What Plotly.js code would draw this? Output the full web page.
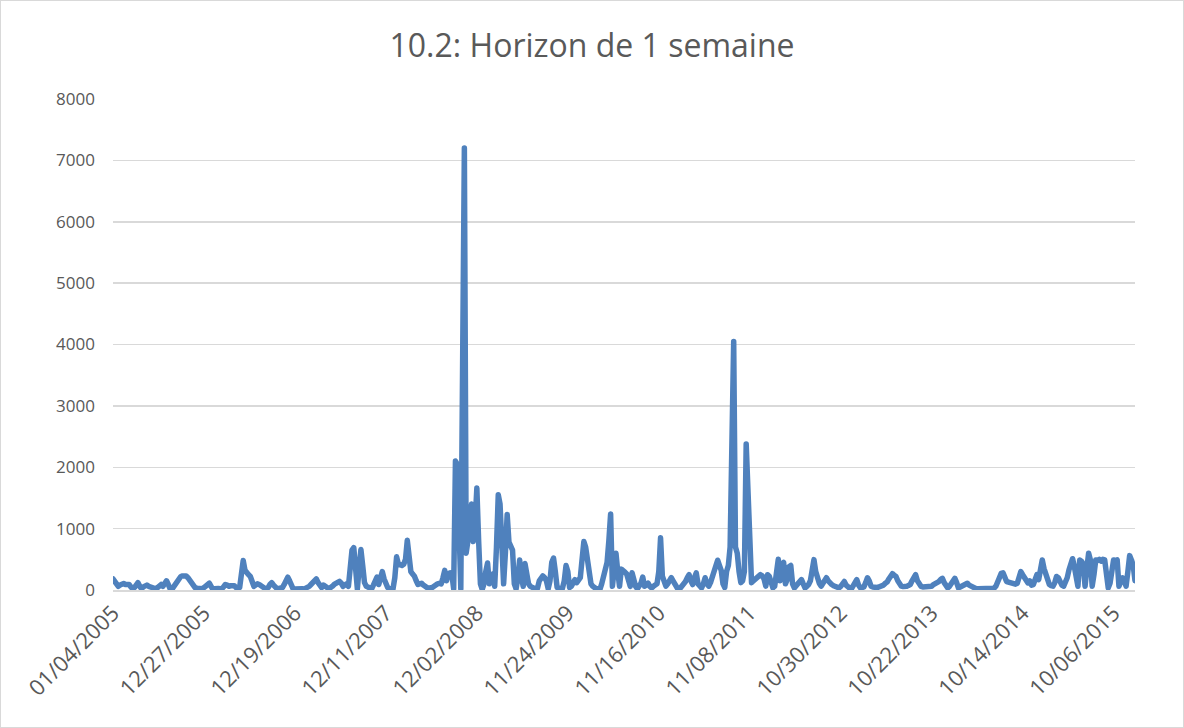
<!DOCTYPE html>
<html>
<head>
<meta charset="utf-8">
<script src="https://cdn.plot.ly/plotly-3.0.1.min.js"></script>
<style>
html, body { margin: 0; padding: 0; background: #ffffff; }
#frame { width: 1184px; height: 728px; box-sizing: border-box; border: 1px solid #d9d9d9; }
#chart { width: 1182px; height: 726px; }
#chart path.js-line { stroke-linejoin: round !important; stroke-linecap: round !important; }
</style>
</head>
<body>
<div id="frame"><div id="chart"></div></div>
<script>
// Weekly series starting 01/04/2005 (one value per week)
const startDate = "2005-01-04";
const chartTitle = "10.2: Horizon de 1 semaine";

const values = [
  180, 140, 90, 60, 80, 100, 105, 90, 95, 90,
  50, 20, 40, 90, 120, 60, 20, 50, 80, 80,
  60, 50, 40, 20, 20, 40, 70, 90, 60, 100,
  150, 90, 20, 10, 60, 110, 140, 190, 220, 230,
  225, 230, 200, 150, 110, 70, 40, 30, 25, 20,
  20, 40, 60, 90, 110, 60, 10, 20, 30, 25,
  20, 20, 50, 90, 80, 60, 70, 80, 70, 40,
  20, 40, 200, 480, 320, 270, 250, 220, 100, 60,
  80, 100, 90, 60, 40, 30, 25, 40, 90, 120,
  80, 30, 20, 25, 30, 40, 90, 180, 210, 150,
  50, 20, 15, 20, 20, 15, 20, 15, 25, 40,
  60, 90, 120, 160, 180, 120, 60, 40, 80, 70,
  40, 20, 30, 60, 90, 100, 120, 140, 110, 60,
  80, 100, 60, 300, 650, 690, 200, 20, 350, 660,
  400, 120, 60, 40, 20, 20, 80, 170, 210, 90,
  200, 300, 180, 90, 40, 20, 20, 20, 200, 540,
  420, 410, 400, 420, 500, 810, 450, 300, 260, 225,
  150, 90, 100, 110, 80, 50, 40, 30, 30, 40,
  60, 90, 100, 110, 100, 200, 320, 150, 260, 280,
  250, 20, 2100, 2050, 1000, 20, 3600, 7200, 600, 790,
  1000, 1400, 790, 1100, 1660, 800, 100, 10, 100, 300,
  440, 100, 150, 260, 60, 700, 1550, 1400, 500, 100,
  600, 1230, 780, 700, 650, 100, 20, 200, 490, 200,
  60, 430, 250, 100, 60, 40, 30, 30, 30, 150,
  200, 230, 200, 150, 20, 150, 450, 520, 300, 40,
  20, 30, 30, 150, 400, 300, 40, 60, 150, 170,
  120, 180, 200, 500, 790, 700, 430, 200, 100, 60,
  30, 20, 20, 10, 100, 250, 400, 450, 800, 1240,
  60, 300, 600, 300, 60, 340, 300, 290, 260, 150,
  60, 280, 150, 60, 20, 60, 110, 210, 60, 80,
  110, 60, 35, 60, 89, 100, 300, 850, 225, 120,
  62, 100, 150, 200, 150, 110, 50, 0, 30, 62,
  100, 138, 200, 250, 150, 89, 200, 280, 100, 62,
  35, 100, 200, 100, 62, 120, 225, 300, 400, 485,
  400, 320, 100, 40, 300, 400, 700, 2400, 4050, 700,
  600, 300, 120, 150, 300, 2380, 1400, 600, 120, 150,
  170, 200, 220, 250, 230, 180, 62, 250, 220, 150,
  35, 62, 250, 500, 150, 420, 450, 100, 170, 380,
  400, 100, 35, 62, 100, 140, 170, 100, 35, 60,
  89, 150, 300, 495, 300, 150, 110, 62, 100, 150,
  200, 150, 100, 89, 70, 50, 50, 35, 60, 100,
  138, 80, 35, 30, 20, 60, 120, 170, 80, 35,
  40, 50, 120, 200, 150, 62, 50, 35, 40, 45,
  50, 60, 80, 110, 130, 180, 240, 266, 240, 220,
  150, 100, 62, 55, 50, 60, 75, 89, 150, 200,
  250, 150, 89, 60, 50, 50, 60, 62, 62, 62,
  89, 100, 120, 138, 170, 190, 120, 50, 35, 60,
  120, 170, 190, 120, 35, 50, 62, 80, 100, 110,
  80, 62, 40, 25, 20, 20, 20, 20, 20, 20,
  20, 20, 20, 20, 30, 62, 150, 250, 270, 280,
  180, 138, 130, 122, 110, 89, 95, 110, 200, 300,
  250, 200, 140, 115, 150, 80, 89, 150, 250, 170,
  300, 490, 350, 250, 150, 89, 70, 62, 120, 220,
  200, 110, 80, 62, 110, 200, 330, 420, 510, 380,
  200, 62, 490, 470, 415, 62, 350, 600, 490, 62,
  250, 490, 480, 500, 470, 500, 490, 300, 35, 110,
  300, 490, 480, 490, 62, 150, 200, 150, 62, 300,
  560, 490, 400, 150
];

const tickLabels = [
  "01/04/2005", "12/27/2005", "12/19/2006", "12/11/2007",
  "12/02/2008", "11/24/2009", "11/16/2010", "11/08/2011",
  "10/30/2012", "10/22/2013", "10/14/2014", "10/06/2015"
];
const tickStep = 51;
const yTicks = [0, 1000, 2000, 3000, 4000, 5000, 6000, 7000, 8000];

// weekly date categories
function fmt(d) {
  const mm = String(d.getUTCMonth() + 1).padStart(2, "0");
  const dd = String(d.getUTCDate()).padStart(2, "0");
  return mm + "/" + dd + "/" + d.getUTCFullYear();
}
const categories = [];
const d0 = new Date(startDate + "T00:00:00Z");
for (let i = 0; i < values.length; i++) {
  categories.push(fmt(new Date(d0.getTime() + i * 7 * 86400000)));
}
const tickVals = tickLabels.map((t, k) => categories[k * tickStep]);

const trace = {
  x: categories,
  y: values,
  type: "scatter",
  mode: "lines",
  line: { color: "#4F81BD", width: 5.5, shape: "linear" },
  hoverinfo: "x+y"
};

const layout = {
  width: 1182,
  height: 726,
  margin: { l: 112, r: 48, t: 97.5, b: 136.5, pad: 0 },
  paper_bgcolor: "#ffffff",
  plot_bgcolor: "#ffffff",
  showlegend: false,
  title: {
    text: chartTitle,
    font: { family: "Open Sans, DejaVu Sans, sans-serif", size: 32, color: "#595959" },
    x: 0.5, xanchor: "center", y: 0.938, yanchor: "middle"
  },
  xaxis: {
    type: "category",
    range: [0, values.length - 1],
    tickmode: "array",
    tickvals: tickVals,
    ticktext: tickLabels,
    tickangle: -45,
    tickfont: { family: "Open Sans, DejaVu Sans, sans-serif", size: 22, color: "#595959" },
    showgrid: false,
    showline: true,
    linecolor: "#d9d9d9",
    linewidth: 1.5,
    ticks: "",
    zeroline: false
  },
  yaxis: {
    range: [0, 8000],
    tickmode: "array",
    tickvals: yTicks,
    ticktext: yTicks.map(String),
    tickfont: { family: "Open Sans, DejaVu Sans, sans-serif", size: 17, color: "#595959" },
    showgrid: true,
    gridcolor: "#d9d9d9",
    gridwidth: 1.5,
    showline: false,
    zeroline: false,
    ticks: "",
    ticklabelstandoff: 17
  }
};

Plotly.newPlot("chart", [trace], layout, { displayModeBar: false, staticPlot: true });
</script>
</body>
</html>
